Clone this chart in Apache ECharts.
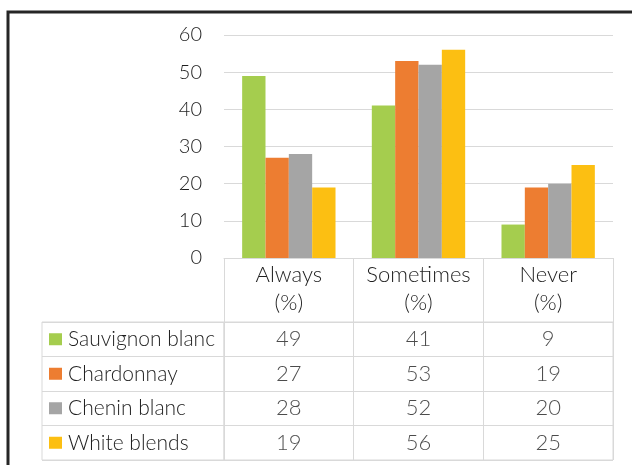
<!DOCTYPE html>
<html>
<head>
<meta charset="utf-8">
<script src="https://cdn.jsdelivr.net/npm/echarts@6/dist/echarts.min.js"></script>
<style>
html,body{margin:0;padding:0;background:#fff;}
#c{width:632px;height:465px;}
</style>
</head>
<body>
<div id="c"></div>
<script>
var categories = ['Always', 'Sometimes', 'Never'];
var seriesNames = ['Sauvignon blanc', 'Chardonnay', 'Chenin blanc', 'White blends'];
var sauvignonBlanc = [49, 41, 9];
var chardonnay = [27, 53, 19];
var cheninBlanc = [28, 52, 20];
var whiteBlends = [19, 56, 25];
var yTicks = [0, 10, 20, 30, 40, 50, 60];

var values = [sauvignonBlanc, chardonnay, cheninBlanc, whiteBlends];
var colors = ['#A5CD4E', '#ED7D31', '#A5A5A5', '#FCBF12'];
var FONT = 'Lato';
var FW = 300;
var TXT = '#1e1e1e';
var LINE = '#d9d9d9';

var chart = echarts.init(document.getElementById('c'), null, {renderer: 'canvas'});

var barSeries = seriesNames.map(function (n, i) {
  return {
    name: n, type: 'bar', xAxisIndex: 0, yAxisIndex: 0,
    data: values[i], barGap: '0%', barCategoryGap: '28%',
    itemStyle: {color: colors[i]}, silent: true
  };
});

var cellData = [];
values.forEach(function (arr, i) {
  arr.forEach(function (v, j) {
    cellData.push([categories[j], seriesNames[i], v]);
  });
});

var rich = {t: {fontSize: 21, fontFamily: FONT, fontWeight: FW, color: TXT, padding: [0, 0, 0, 6]}};
colors.forEach(function (c, i) {
  rich['s' + i] = {width: 13, height: 12, backgroundColor: c};
});

var option = {
  animation: false,
  textStyle: {fontFamily: FONT},
  graphic: [{
    type: 'rect', silent: true,
    shape: {x: 8, y: 12, width: 700, height: 600},
    style: {fill: 'none', stroke: '#262626', lineWidth: 3}
  }],
  grid: [
    {left: 224, top: 35, width: 389, height: 223},
    {left: 224, top: 322, width: 389, height: 138, show: true, borderColor: LINE, borderWidth: 1},
    {left: 42, top: 322, width: 182, height: 138, show: true, borderColor: LINE, borderWidth: 1}
  ],
  xAxis: [
    {
      type: 'category', gridIndex: 0, data: categories, boundaryGap: true,
      axisLine: {show: true, lineStyle: {color: LINE, width: 1}},
      axisTick: {show: true, length: 64, lineStyle: {color: LINE}},
      axisLabel: {
        interval: 0, hideOverlap: false,
        fontSize: 22, fontFamily: FONT, fontWeight: FW, color: TXT, lineHeight: 28, margin: 3,
        formatter: function (v) { return v + '\n(%)'; }
      }
    },
    {
      type: 'category', gridIndex: 1, data: categories,
      axisLine: {show: false}, axisTick: {show: false}, axisLabel: {show: false},
      splitLine: {show: true, interval: 0, lineStyle: {color: LINE}}
    },
    {
      type: 'category', gridIndex: 2, data: ['legend'],
      axisLine: {show: false}, axisTick: {show: false}, axisLabel: {show: false},
      splitLine: {show: false}
    }
  ],
  yAxis: [
    {
      type: 'value', gridIndex: 0, min: yTicks[0], max: yTicks[yTicks.length - 1], interval: 10,
      axisLine: {show: false}, axisTick: {show: false},
      splitLine: {show: true, lineStyle: {color: LINE, width: 1}},
      axisLabel: {fontSize: 20, fontFamily: FONT, fontWeight: FW, color: TXT, margin: 22}
    },
    {
      type: 'category', gridIndex: 1, data: seriesNames, inverse: true,
      axisLine: {show: false}, axisTick: {show: false}, axisLabel: {show: false},
      splitLine: {show: true, interval: 0, lineStyle: {color: LINE}}
    },
    {
      type: 'category', gridIndex: 2, data: seriesNames, inverse: true,
      axisLine: {show: false}, axisTick: {show: false},
      splitLine: {show: true, interval: 0, lineStyle: {color: LINE}},
      axisLabel: {
        inside: true, margin: 7, interval: 0, hideOverlap: false,
        formatter: function (v, idx) { return '{s' + idx + '|}{t|' + v + '}'; },
        rich: rich
      }
    }
  ],
  series: barSeries.concat([{
    type: 'scatter', xAxisIndex: 1, yAxisIndex: 1, data: cellData,
    symbolSize: 1, itemStyle: {color: 'rgba(0,0,0,0)'}, silent: true,
    label: {
      show: true, position: 'inside', fontSize: 22, fontFamily: FONT, fontWeight: FW, color: TXT,
      formatter: function (p) { return String(p.value[2]); }
    }
  }])
};
chart.setOption(option);
</script>
</body>
</html>
